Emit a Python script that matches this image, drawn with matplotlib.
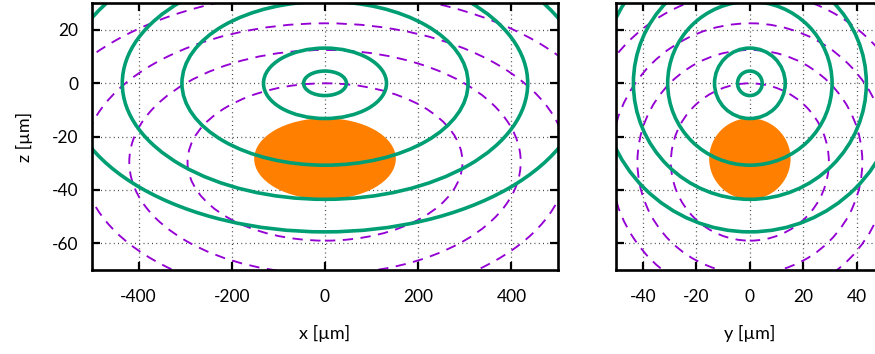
import matplotlib
matplotlib.use("Agg")
import matplotlib.pyplot as plt
from matplotlib.patches import Ellipse

plt.rcParams['font.family'] = ['Lato', 'DejaVu Sans']
plt.rcParams['axes.unicode_minus'] = False

# ---- data (µm) ----
# green solid contours: centred at (0, 0)
green_center_z = 0.0
green_z_semi = [4.6, 13.2, 30.7, 43.5, 55.7]      # semi-axis along z (and y)
green_x_semi = [46, 132, 307, 435, 557]            # semi-axis along x

# purple dashed contours: centred at (0, -29.5)
purple_center_z = -29.5
purple_z_semi = [29.5, 42.0, 52.0, 64.0]
purple_x_semi = [295, 420, 520, 640]

# orange filled ellipse
orange_center_z = -28.3
orange_z_semi = 15.2
orange_x_semi = 152

x_ticks = [-400, -200, 0, 200, 400]
y_ticks = [-40, -20, 0, 20, 40]
z_ticks = [-60, -40, -20, 0, 20]
x_lim = (-500, 500)
y_lim = (-50, 50)
z_lim = (-70, 30)

GREEN = '#009E73'
PURPLE = '#9400D3'
ORANGE = '#FF8000'

fig = plt.figure(figsize=(8.75, 3.54), dpi=100)
axL = fig.add_axes([92/875, 1-270/354, (558-92)/875, (270-3.3)/354])
axR = fig.add_axes([616/875, 1-270/354, (883.75-616)/875, (270-3.3)/354])


def draw(ax, semis_h_green, semis_h_purple, orange_h):
    ax.add_patch(Ellipse((0, orange_center_z), 2*orange_h, 2*orange_z_semi,
                         facecolor=ORANGE, edgecolor='none', zorder=2))
    for h, v in zip(semis_h_purple, purple_z_semi):
        ax.add_patch(Ellipse((0, purple_center_z), 2*h, 2*v, facecolor='none',
                             edgecolor=PURPLE, lw=1.35, linestyle=(0, (5.5, 4.0)),
                             zorder=3))
    for h, v in zip(semis_h_green, green_z_semi):
        ax.add_patch(Ellipse((0, green_center_z), 2*h, 2*v, facecolor='none',
                             edgecolor=GREEN, lw=2.6, zorder=4))


draw(axL, green_x_semi, purple_x_semi, orange_x_semi)
draw(axR, green_z_semi, purple_z_semi, orange_z_semi)

axL.set_xlim(*x_lim)
axL.set_ylim(*z_lim)
axL.set_xticks(x_ticks)
axL.set_yticks(z_ticks)
axR.set_xlim(*y_lim)
axR.set_ylim(*z_lim)
axR.set_xticks(y_ticks)
axR.set_yticks(z_ticks)
axR.set_yticklabels([])

for ax in (axL, axR):
    ax.grid(True, color='#444444', linestyle=(0, (0.8, 2.6)), linewidth=0.9, zorder=1)
    ax.set_axisbelow(True)
    ax.tick_params(direction='in', length=5.5, width=1.6, top=True, right=True,
                   labelsize=12.5, colors='black')
    ax.tick_params(axis='x', pad=14)
    ax.tick_params(axis='y', pad=10)
    for s in ax.spines.values():
        s.set_linewidth(1.9)
        s.set_zorder(6)

axL.set_xlabel('x [µm]', fontsize=13, labelpad=14)
axL.set_ylabel('z [µm]', fontsize=13, labelpad=13)
axR.set_xlabel('y [µm]', fontsize=13, labelpad=14)

fig.savefig('out.png', dpi=100)
